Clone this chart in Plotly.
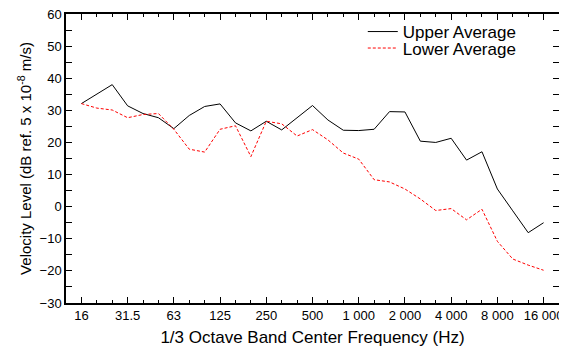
import plotly.graph_objects as go

freq_labels = ["16", "20", "25", "31.5", "40", "50", "63", "80", "100", "125",
               "160", "200", "250", "315", "400", "500", "630", "800", "1 000", "1 250",
               "1 600", "2 000", "2 500", "3 150", "4 000", "5 000", "6 300", "8 000", "10 000", "12 500",
               "16 000"]
upper_avg = [32.1, 35.1, 38.0, 31.4, 29.0, 27.7, 24.3, 28.4, 31.2, 32.0,
             26.1, 23.6, 26.6, 23.9, 27.7, 31.5, 27.0, 23.8, 23.7, 24.1,
             29.6, 29.5, 20.4, 20.0, 21.3, 14.5, 17.1, 5.5, -1.3, -8.1,
             -5.0]
lower_avg = [32.1, 30.7, 30.1, 27.7, 28.7, 29.0, 24.1, 17.9, 17.0, 24.1,
             25.2, 15.6, 26.6, 25.8, 22.0, 24.0, 20.8, 16.7, 14.8, 8.4,
             7.7, 5.5, 2.4, -1.2, -0.6, -4.1, -0.8, -10.8, -16.3, -18.2,
             -19.8]
major_tick_labels = ["16", "31.5", "63", "125", "250", "500", "1 000", "2 000", "4 000", "8 000", "16 000"]

band_idx = list(range(len(freq_labels)))
major_idx = [freq_labels.index(t) for t in major_tick_labels]

FONT = "Arial, Liberation Sans, sans-serif"

fig = go.Figure()
fig.add_trace(go.Scatter(x=band_idx, y=upper_avg, mode="lines", name="Upper Average",
                         line=dict(color="black", width=1), legend="legend"))
fig.add_trace(go.Scatter(x=band_idx, y=lower_avg, mode="lines", name="Lower Average",
                         line=dict(color="red", width=1, dash="3px,2px"), legend="legend2"))

axis_common = dict(showgrid=False, zeroline=False, showline=True, linecolor="black",
                   linewidth=1.5, mirror="ticks", ticks="inside", ticklen=6,
                   tickwidth=1.2, tickcolor="black", automargin=False,
                   ticklabeloverflow="allow",
                   tickfont=dict(family=FONT, size=13, color="black"))

fig.update_xaxes(range=[-1, 31], tickmode="array", tickvals=major_idx, ticktext=major_tick_labels,
                 minor=dict(dtick=1, tick0=0, ticks="inside", ticklen=3, tickcolor="black", tickwidth=1),
                 title=dict(text="1/3 Octave Band Center Frequency (Hz)",
                            font=dict(family=FONT, size=17, color="black"), standoff=16),
                 **axis_common)
fig.update_yaxes(range=[-30, 60], dtick=10, tick0=0,
                 minor=dict(dtick=5, ticks="inside", ticklen=6, tickcolor="black", tickwidth=1),
                 title=dict(text="Velocity Level (dB ref. 5 x 10<sup>-8</sup> m/s)",
                            font=dict(family=FONT, size=15, color="black"), standoff=4),
                 **axis_common)

leg_common = dict(x=0.602, xanchor="left", yanchor="top", bgcolor="rgba(0,0,0,0)",
                  font=dict(family=FONT, size=17, color="black"))
# page has an 8px body margin: shrink the figure so plot area lands where the reference has it
fig.update_layout(
    width=559, height=339,
    margin=dict(l=58, r=8, t=6, b=44),
    paper_bgcolor="white", plot_bgcolor="white",
    showlegend=True,
    legend=dict(y=1.0, **leg_common),
    legend2=dict(y=0.943, **leg_common),
)

fig.write_html("out.html")
